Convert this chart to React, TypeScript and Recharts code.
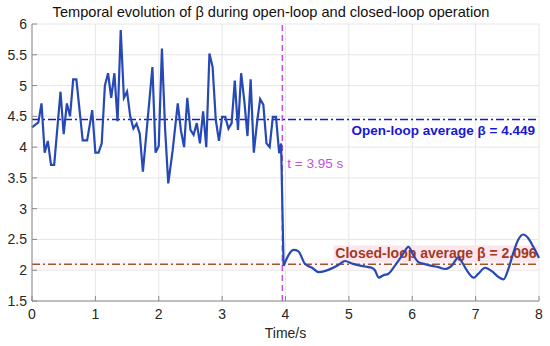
import {
  CartesianGrid,
  Line,
  LineChart,
  ReferenceArea,
  ReferenceLine,
  XAxis,
  YAxis,
} from "recharts";

const openTime = [
  0, 0.1, 0.15, 0.2, 0.25, 0.3, 0.35, 0.45, 0.5, 0.55, 0.6, 0.65, 0.7, 0.8,
  0.87, 0.95, 1.0, 1.05, 1.1, 1.15, 1.2, 1.25, 1.3, 1.35, 1.4, 1.45, 1.5, 1.55,
  1.6, 1.65, 1.7, 1.75, 1.9, 1.95, 2.0, 2.05, 2.1, 2.15, 2.22, 2.3, 2.35, 2.4,
  2.45, 2.5, 2.55, 2.6, 2.65, 2.7, 2.75, 2.8, 2.85, 2.9, 2.95, 3.0, 3.05, 3.1,
  3.15, 3.2, 3.25, 3.3, 3.35, 3.4, 3.45, 3.5, 3.55, 3.6, 3.65, 3.7, 3.75, 3.8,
  3.85, 3.9, 3.93,
];
const openBeta = [
  4.32, 4.4, 4.71, 3.91, 4.1, 3.71, 3.71, 4.9, 4.21, 4.71, 4.5, 5.1, 5.1, 4.11,
  4.11, 4.6, 3.91, 3.91, 4.06, 5.0, 5.2, 4.8, 5.2, 4.42, 5.9, 4.8, 4.9, 4.5,
  4.3, 4.38, 4.22, 3.6, 5.3, 3.91, 4.02, 5.6, 4.3, 3.41, 3.95, 4.71, 4.27, 4.0,
  4.8, 4.28, 4.2, 4.39, 4.06, 4.58, 4.0, 5.52, 5.3, 4.44, 4.1, 4.49, 4.49, 4.3,
  4.39, 5.08, 4.28, 5.2, 4.75, 4.18, 5.1, 3.91, 4.39, 4.78, 4.69, 4.06, 4.0,
  4.49, 4.49, 3.9, 4.06,
];

const closedTime = [
  3.97, 4.05, 4.13, 4.2, 4.31, 4.42, 4.52, 4.63, 4.73, 4.84, 4.94, 5.05, 5.15,
  5.26, 5.36, 5.41, 5.47, 5.55, 5.62, 5.73, 5.84, 5.94, 6.02, 6.1, 6.2, 6.31,
  6.41, 6.52, 6.62, 6.73, 6.78, 6.86, 6.97, 7.04, 7.15, 7.26, 7.36, 7.44, 7.52,
  7.6, 7.67, 7.75, 7.83, 7.91, 8.0,
];
const closedBeta = [
  2.07, 2.25, 2.33, 2.31, 2.1, 2.04, 1.97, 1.99, 2.03, 2.09, 2.15, 2.11, 2.08,
  2.06, 2.04, 2.0, 1.88, 1.92, 1.94, 2.08, 2.24, 2.38, 2.24, 2.13, 2.1, 2.07,
  2.05, 2.02, 2.07, 2.21, 2.14, 2.0, 1.88, 1.94, 2.04, 1.98, 1.89, 1.85, 2.03,
  2.3, 2.49, 2.58, 2.52, 2.38, 2.2,
];

const xTicks = [0, 1, 2, 3, 4, 5, 6, 7, 8];
const yTicks = [1.5, 2, 2.5, 3, 3.5, 4, 4.5, 5, 5.5, 6];

const OPEN_AVG = 4.449;
const CLOSED_AVG = 2.096;
const SWITCH_TIME = 3.95;

const FONT = "'Liberation Sans', Arial, sans-serif";
const LINE_BLUE = "#2649b5";
const AVG_BLUE = "#1818d0";
const AVG_BROWN = "#9a5b2a";
const TEXT_RED = "#a3391e";
const VIOLET = "#c24fe4";
const AXIS_GRAY = "#8a8a8a";

const closedData = closedTime.map((t, i) => ({ t, beta: closedBeta[i] }));
const openData = openTime
  .map((t, i) => ({ t, beta: openBeta[i] }))
  .concat(closedData.slice(0, 1));

function OpenLabel({ viewBox }: any) {
  const { x, y, width } = viewBox;
  return (
    <text
      x={x + width - 4}
      y={y + 16}
      textAnchor="end"
      fontFamily={FONT}
      fontWeight="bold"
      fontSize={13.5}
      fill={AVG_BLUE}
    >
      Open-loop average β = {OPEN_AVG}
    </text>
  );
}

function ClosedLabel({ viewBox }: any) {
  const { x, y, width } = viewBox;
  const right = x + width - 2.5;
  return (
    <g>
      <rect x={right - 203} y={y - 19} width={205} height={17} fill="#fde3ec" opacity={0.85} />
      <text
        x={right}
        y={y - 6}
        textAnchor="end"
        fontFamily={FONT}
        fontWeight="bold"
        fontSize={14}
        fill={TEXT_RED}
      >
        Closed-loop average β = {CLOSED_AVG}
      </text>
    </g>
  );
}

function SwitchLabel({ viewBox }: any) {
  const { x, y, height } = viewBox;
  return (
    <text
      x={x + 5}
      y={y + height * 0.52}
      fontFamily={FONT}
      fontSize={13.5}
      fill={VIOLET}
    >
      t = {SWITCH_TIME} s
    </text>
  );
}

export default function App() {
  const tickStyle = { fontFamily: FONT, fontSize: 14, fill: "#262626" };
  return (
    <div style={{ position: "absolute", left: 0, top: 0, width: 550, height: 346, background: "#fff" }}>
      <LineChart
        width={550}
        height={346}
        margin={{ top: 24, right: 11, bottom: 0, left: 0 }}
      >
        <CartesianGrid stroke="#e6e6e6" strokeWidth={1} />
        <ReferenceArea y1={2.0} y2={2.19} fill="#fdf0f4" fillOpacity={0.6} stroke="none" />
        <XAxis
          dataKey="t"
          type="number"
          domain={[0, 8]}
          ticks={xTicks}
          height={45}
          stroke={AXIS_GRAY}
          tickSize={-5}
          tickMargin={13}
          tick={tickStyle}
          allowDuplicatedCategory={false}
          label={{ value: "Time/s", position: "insideBottom", offset: 8, style: { fontFamily: FONT, fontSize: 14, fill: "#262626" } }}
        />
        <XAxis
          xAxisId="top"
          orientation="top"
          type="number"
          domain={[0, 8]}
          ticks={xTicks}
          height={0}
          stroke={AXIS_GRAY}
          tickSize={-5}
          tickFormatter={() => ""}
        />
        <YAxis
          type="number"
          domain={[1.5, 6]}
          ticks={yTicks}
          width={32}
          stroke={AXIS_GRAY}
          tickSize={-5}
          tickMargin={10}
          tick={tickStyle}
        />
        <YAxis
          yAxisId="right"
          orientation="right"
          type="number"
          domain={[1.5, 6]}
          ticks={yTicks}
          width={0}
          stroke={AXIS_GRAY}
          tickSize={-5}
          tickFormatter={() => ""}
        />
        <ReferenceLine
          y={OPEN_AVG}
          stroke={AVG_BLUE}
          strokeWidth={1.4}
          strokeDasharray="8 3 2 3"
          label={OpenLabel}
        />
        <ReferenceLine
          y={CLOSED_AVG}
          stroke={AVG_BROWN}
          strokeWidth={1.4}
          strokeDasharray="8 3 2 3"
          label={ClosedLabel}
        />
        <ReferenceLine
          x={SWITCH_TIME}
          stroke={VIOLET}
          strokeWidth={1.5}
          strokeDasharray="6 4"
          label={SwitchLabel}
        />
        <Line
          data={openData}
          dataKey="beta"
          type="linear"
          stroke={LINE_BLUE}
          strokeWidth={2.2}
          dot={false}
          isAnimationActive={false}
        />
        <Line
          data={closedData}
          dataKey="beta"
          type="monotone"
          stroke={LINE_BLUE}
          strokeWidth={2.2}
          dot={false}
          isAnimationActive={false}
        />
      </LineChart>
      <svg
        width={550}
        height={24}
        style={{ position: "absolute", left: 0, top: 0 }}
      >
        <text x={271} y={17.3} textAnchor="middle" fontFamily={FONT} fontSize={14.6} fill="#111">
          Temporal evolution of β during open-loop and closed-loop operation
        </text>
      </svg>
    </div>
  );
}
